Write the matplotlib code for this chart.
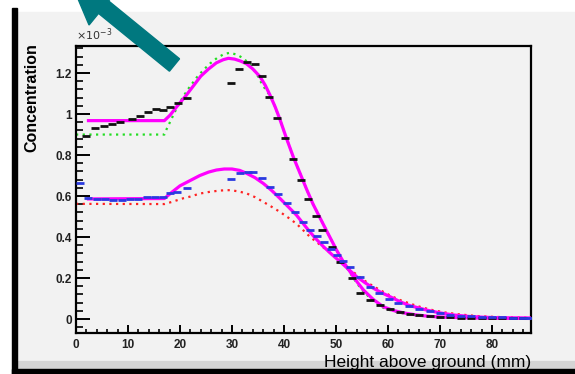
import matplotlib
matplotlib.use("Agg")
import matplotlib.pyplot as plt
import numpy as np
from matplotlib.patches import Rectangle, Polygon
from matplotlib.ticker import MultipleLocator, FormatStrFormatter

# concentration values in units of 1e-3
up_pts_x = [2.0, 3.6, 5.3, 6.9, 8.5, 10.7, 12.3, 13.9, 15.4, 16.8, 18.1, 19.7, 21.3,
            29.9, 31.4, 32.9, 34.4, 35.7, 37.2, 38.7, 40.2, 41.7, 43.2, 44.7, 46.1,
            47.4, 49.2, 50.8, 53.0, 54.6, 56.5, 58.5, 60.4, 62.3, 64.2,
            66, 68, 70, 72, 74, 76, 78, 80, 82, 84, 86]
up_pts_y = [0.895, 0.93, 0.94, 0.95, 0.96, 0.974, 0.99, 1.008, 1.027, 1.02, 1.036, 1.055, 1.077,
            1.153, 1.22, 1.252, 1.244, 1.185, 1.084, 0.98, 0.881, 0.78, 0.68, 0.585, 0.505,
            0.434, 0.353, 0.28, 0.198, 0.128, 0.093, 0.068, 0.047, 0.036, 0.023,
            0.018, 0.014, 0.011, 0.009, 0.007, 0.006, 0.005, 0.004, 0.004, 0.003, 0.003]

lo_pts_x = [0.8, 2.4, 4.0, 5.6, 7.2, 8.8, 10.4, 12.0, 13.6, 15.2, 16.8, 18.1, 19.4, 21.3,
            29.9, 31.5, 33.0, 34.1, 35.7, 37.3, 38.9, 40.5, 42.1, 43.7, 45.0, 46.3,
            47.6, 49.0, 50.1, 51.4, 52.7, 54.6, 56.5, 58.3, 60.2, 62.0, 64, 66, 68,
            70, 72, 74, 76, 78, 80, 82, 84, 86, 87.4]
lo_pts_y = [0.662, 0.59, 0.585, 0.585, 0.583, 0.583, 0.585, 0.588, 0.597, 0.597, 0.597, 0.613, 0.62, 0.637,
            0.683, 0.711, 0.715, 0.719, 0.686, 0.645, 0.61, 0.564, 0.523, 0.475, 0.434, 0.405,
            0.377, 0.34, 0.312, 0.283, 0.255, 0.203, 0.158, 0.128, 0.10, 0.08, 0.062, 0.048, 0.038,
            0.03, 0.022, 0.017, 0.013, 0.010, 0.009, 0.008, 0.007, 0.006, 0.006]

fit_up_x = [2.4, 17.0, 18.1, 19.5, 21.0, 22.5, 24.0, 25.5, 27.0, 28.3, 29.3, 30.5, 31.7,
            32.8, 34.0, 35.4, 36.4, 37.3, 38.3, 39.2, 40.5, 41.8, 43.1, 44.4, 45.6,
            46.8, 48.0, 50.1, 51.4, 52.7, 54.0, 55.3, 57.2, 59.1, 61, 63, 65.5, 68,
            71, 75, 80, 87.5]
fit_up_y = [0.968, 0.968, 0.995, 1.04, 1.085, 1.135, 1.185, 1.22, 1.25, 1.265, 1.272, 1.268, 1.258,
            1.245, 1.22, 1.182, 1.14, 1.093, 1.035, 0.975, 0.88, 0.79, 0.71, 0.63, 0.56,
            0.5, 0.44, 0.337, 0.28, 0.231, 0.183, 0.141, 0.095, 0.06, 0.042, 0.03, 0.02, 0.013,
            0.009, 0.006, 0.004, 0.003]

sim_up_x = [0, 17.0, 17.4, 18.1, 19.0, 20.0, 21.5, 23.2, 24.5, 25.8, 27.2, 28.5, 29.6,
            30.9, 32.2, 33.5, 34.7, 35.9, 37.3, 38.3, 39.2, 40.5, 41.8, 43.1, 44.4,
            45.6, 46.8, 48.0, 50.1, 51.4, 52.7, 54.0, 55.3, 57.2, 59.1, 61, 63, 65.5,
            68, 71, 75, 80, 87.5]
sim_up_y = [0.90, 0.90, 0.925, 0.962, 1.01, 1.06, 1.12, 1.178, 1.215, 1.247, 1.275, 1.293, 1.299,
            1.29, 1.272, 1.24, 1.198, 1.14, 1.09, 1.035, 0.975, 0.88, 0.79, 0.71, 0.63,
            0.56, 0.5, 0.44, 0.335, 0.275, 0.225, 0.175, 0.133, 0.088, 0.055, 0.038, 0.027, 0.018,
            0.012, 0.008, 0.005, 0.004, 0.003]

fit_lo_x = [2.4, 17.0, 18.5, 20.0, 21.9, 23.8, 25.5, 27.0, 28.5, 30.0, 31.5, 32.8, 34.4,
            36.0, 37.6, 39.2, 40.8, 42.4, 44.5, 46.0, 47.6, 49.2, 50.8, 52.4, 54.0,
            55.6, 57.2, 58.8, 60.4, 62.3, 64, 65.5, 67.4, 70, 72.6, 75.5, 78.3, 82, 87.5]
fit_lo_y = [0.586, 0.588, 0.62, 0.65, 0.675, 0.70, 0.717, 0.727, 0.732, 0.732, 0.725, 0.711, 0.69,
            0.662, 0.628, 0.589, 0.548, 0.507, 0.44, 0.395, 0.353, 0.315, 0.28, 0.243, 0.206,
            0.177, 0.15, 0.128, 0.109, 0.085, 0.067, 0.057, 0.044, 0.03, 0.02, 0.013, 0.009, 0.006, 0.005]

sim_lo_x = [0, 17.0, 18.5, 20.6, 21.9, 23.8, 25.8, 27.7, 29.6, 31.2, 32.8, 34.4, 36.0,
            37.6, 39.2, 40.8, 42.4, 45.0, 48.2, 50.2, 52.1, 53.7, 55.3, 57.0, 58.5,
            60.4, 62.3, 64.5, 66.5, 68.7, 71, 74, 77, 80, 84, 87.5]
sim_lo_y = [0.562, 0.561, 0.572, 0.589, 0.597, 0.612, 0.621, 0.627, 0.629, 0.623, 0.613, 0.595, 0.572,
            0.548, 0.523, 0.495, 0.465, 0.401, 0.337, 0.295, 0.255, 0.222, 0.19, 0.163, 0.141,
            0.115, 0.093, 0.073, 0.057, 0.043, 0.032, 0.022, 0.015, 0.011, 0.008, 0.006]

W, H = 575, 374
fig = plt.figure(figsize=(W / 100, H / 100), dpi=100, facecolor='white')

def px(x0, y0, x1, y1):
    # pixel box (top-down) -> figure fraction rectangle
    return (x0 / W, 1 - y1 / H), (x1 - x0) / W, (y1 - y0) / H

for box, col in [((16, 12, 575, 368), '#f2f2f2'), ((16, 361, 575, 369), '#d4d4d4'),
                 ((12, 8, 16.5, 374), 'black'), ((12, 369, 575, 374), 'black')]:
    xy, w, h = px(*box)
    fig.patches.append(Rectangle(xy, w, h, transform=fig.transFigure, color=col, zorder=-5))

ax = fig.add_axes([76 / W, 1 - 333 / H, (531 - 76) / W, (333 - 46) / H], zorder=2)
ax.set_facecolor('#f2f2f2')

dot = (0, (1, 2))
ax.plot(sim_up_x, sim_up_y, color='#22dd22', lw=1.6, ls=dot, zorder=2)
ax.plot(sim_lo_x, sim_lo_y, color='#ff2222', lw=1.6, ls=dot, zorder=2)
ax.plot(fit_up_x, fit_up_y, color='#ff00ff', lw=2.3, zorder=3)
ax.plot(fit_lo_x, fit_lo_y, color='#ff00ff', lw=2.3, zorder=3)
ax.plot(up_pts_x, up_pts_y, ls='none', marker='_', ms=6, mew=2, color='#111111', zorder=4)
ax.plot(lo_pts_x, lo_pts_y, ls='none', marker='_', ms=6, mew=2, color='#2a3ae0', zorder=4)

ax.set_xlim(0, 87.5)
ax.set_ylim(-0.068, 1.332)
ax.xaxis.set_major_locator(MultipleLocator(10))
ax.xaxis.set_minor_locator(MultipleLocator(2))
ax.yaxis.set_major_locator(MultipleLocator(0.2))
ax.yaxis.set_minor_locator(MultipleLocator(0.04))
ax.yaxis.set_major_formatter(FormatStrFormatter('%g'))
ax.tick_params(axis='y', which='major', direction='in', length=10, width=1.4, pad=3)
ax.tick_params(axis='y', which='minor', direction='in', length=5, width=1.2)
ax.tick_params(axis='x', which='major', direction='in', length=6, width=1.4, pad=4)
ax.tick_params(axis='x', which='minor', direction='in', length=3, width=1.2)
for lab in ax.get_xticklabels() + ax.get_yticklabels():
    lab.set_fontfamily('Liberation Sans')
    lab.set_fontweight('bold')
    lab.set_fontsize(8.5)
    lab.set_color('#222222')
for s in ax.spines.values():
    s.set_linewidth(1.6)

ax.set_ylabel('Concentration', loc='top', fontfamily='Liberation Sans',
              fontweight='bold', fontsize=11.5)
ax.yaxis.set_label_coords(-0.08, 1.01)
ax.set_xlabel('Height above ground (mm)', loc='right', fontfamily='Liberation Sans',
              fontsize=12.5)
ax.xaxis.set_label_coords(1.0, -0.075)
ax.text(0.0, 1.012, r'$\times10^{-3}$', transform=ax.transAxes, fontsize=8,
        ha='left', va='bottom', color='#333333')

# teal arrow overlay, drawn in pixel space
ov = fig.add_axes([0, 0, 1, 1], zorder=10)
ov.set_xlim(0, W)
ov.set_ylim(H, 0)
ov.axis('off')
ov.patch.set_alpha(0)
T = np.array([174.5, 65.0])
d = np.array([-0.775, -0.632])
n = np.array([0.632, -0.775])
B = T + 91.5 * d
tip = T + 135 * d
pts = [T - 8 * n, B - 8 * n, B - 23 * n, tip, B + 23 * n, B + 8 * n, T + 8 * n]
ov.add_patch(Polygon(pts, closed=True, color='#00787f'))

fig.savefig('out.png', dpi=100, facecolor=fig.get_facecolor())
